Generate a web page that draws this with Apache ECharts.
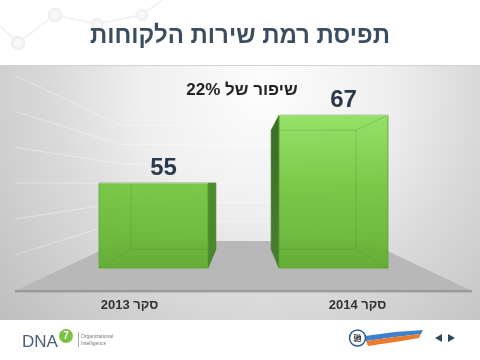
<!DOCTYPE html>
<html>
<head>
<meta charset="utf-8">
<script src="https://cdn.jsdelivr.net/npm/echarts@6/dist/echarts.min.js"></script>
<style>html,body{margin:0;padding:0;background:#fff;}#c{width:480px;height:360px;}</style>
</head>
<body>
<div id="c"></div>
<script>
// ---- data ----
const categories = ['סקר 2013', 'סקר 2014'];
const scores = [55, 67];
const wallTicks = [45, 50, 55, 60, 65, 70];
const yMin = 40;
const yMax = 75;
const titleText = 'תפיסת רמת שירות הלקוחות';
const improvement = Math.round((scores[1] - scores[0]) / scores[0] * 100);
const noteText = 'שיפור של ' + improvement + '%';

// ---- camera (style) ----
const HORIZON_VALUE = 55;   // eye level on value axis
const S_FRONT = -0.27;      // floor front edge depth
const S_WALL = 0.318;       // back wall depth
const S_BAR = 0.22;         // bar depth
const FONT = "'Liberation Sans', Arial, 'DejaVu Sans', sans-serif";

function vanish(params, api) {
  const cs = params.coordSys;
  return [cs.x + cs.width / 2, api.coord([0, HORIZON_VALUE])[1]];
}
function P(pt, s, V) {
  return [pt[0] + s * (V[0] - pt[0]), pt[1] + s * (V[1] - pt[1])];
}

const chart = echarts.init(document.getElementById('c'), null, {renderer: 'canvas'});

const option = {
  animation: false,
  grid: {left: 63.5, right: 56.5, top: 70, bottom: 92},
  xAxis: {
    type: 'category',
    data: categories,
    axisLine: {show: false},
    axisTick: {show: false},
    splitLine: {show: false},
    axisLabel: {
      margin: 31,
      fontFamily: FONT,
      fontWeight: 'bold',
      fontSize: 13,
      color: '#333333',
      formatter: function (v, i) { return i === 0 ? '{a|' + v + '}' : '{b|' + v + '}'; },
      rich: {
        a: {padding: [0, 48, 0, 0], fontFamily: FONT, fontWeight: 'bold', fontSize: 13, color: '#333333'},
        b: {padding: [0, 0, 0, 48], fontFamily: FONT, fontWeight: 'bold', fontSize: 13, color: '#333333'}
      }
    }
  },
  yAxis: {
    type: 'value', min: yMin, max: yMax, show: false,
    splitLine: {show: false}
  },
  graphic: [
    // panel background
    {type: 'rect', z: -10, silent: true, shape: {x: 0, y: 65, width: 480, height: 255},
      style: {fill: new echarts.graphic.RadialGradient(0.55, 0.1, 1.37, [
        {offset: 0, color: '#fdfdfd'},
        {offset: 0.35, color: '#efefef'},
        {offset: 0.6, color: '#dadada'},
        {offset: 1, color: '#bebebe'}
      ])}},
    {type: 'line', z: -9, silent: true, shape: {x1: 0, y1: 65.5, x2: 480, y2: 65.5}, style: {stroke: '#d2d2d2', lineWidth: 1}},
    // top decoration
    {type: 'polyline', z: -9, silent: true, shape: {points: [[0, 26], [18, 43], [55, 15], [97, 24], [142, 15], [162, 0]]},
      style: {stroke: '#f2f2f2', lineWidth: 2, fill: null}},
    {type: 'circle', z: -8, silent: true, shape: {cx: 18, cy: 43, r: 6}, style: {fill: '#f8f8f8', stroke: '#efefef', lineWidth: 3}},
    {type: 'circle', z: -8, silent: true, shape: {cx: 55, cy: 15, r: 6}, style: {fill: '#f8f8f8', stroke: '#efefef', lineWidth: 3}},
    {type: 'circle', z: -8, silent: true, shape: {cx: 97, cy: 24, r: 5}, style: {fill: '#f8f8f8', stroke: '#f1f1f1', lineWidth: 3}},
    {type: 'circle', z: -8, silent: true, shape: {cx: 142, cy: 15, r: 5}, style: {fill: '#f8f8f8', stroke: '#f1f1f1', lineWidth: 3}},
    // title
    {type: 'text', z: 10, silent: true, x: 240, y: 36,
      style: {text: titleText, font: 'bold 24px ' + FONT, fill: '#3b4e61', align: 'center', verticalAlign: 'middle',
        textShadowColor: 'rgba(110,170,225,0.55)', textShadowOffsetX: 1, textShadowOffsetY: 0, textShadowBlur: 0}},
    // annotation
    {type: 'text', z: 10, silent: true, x: 242, y: 90,
      style: {text: noteText, font: 'bold 17px ' + FONT, fill: '#222222', align: 'center', verticalAlign: 'middle'}},
    // footer left logo
    {type: 'text', z: 10, silent: true, x: 22, y: 342,
      style: {text: 'DNA', font: '17px ' + FONT, fill: '#4b5f74', align: 'left', verticalAlign: 'middle'}},
    {type: 'circle', z: 10, silent: true, shape: {cx: 66, cy: 336, r: 7}, style: {fill: '#7bc142'}},
    {type: 'text', z: 11, silent: true, x: 66, y: 336,
      style: {text: '7', font: 'bold 10px ' + FONT, fill: '#ffffff', align: 'center', verticalAlign: 'middle'}},
    {type: 'line', z: 10, silent: true, shape: {x1: 78.5, y1: 332, x2: 78.5, y2: 347}, style: {stroke: '#aaaaaa', lineWidth: 1}},
    {type: 'text', z: 10, silent: true, x: 81, y: 337,
      style: {text: 'Organizational', font: '5px ' + FONT, fill: '#777777', align: 'left', verticalAlign: 'middle'}},
    {type: 'text', z: 10, silent: true, x: 81, y: 344,
      style: {text: 'Intelligence', font: '5px ' + FONT, fill: '#777777', align: 'left', verticalAlign: 'middle'}},
    // footer right logo
    {type: 'polygon', z: 10, silent: true, shape: {points: [[365, 336], [395, 332], [423, 330], [421, 334], [395, 337], [366, 341]]}, style: {fill: '#3f7fd0'}},
    {type: 'polygon', z: 10, silent: true, shape: {points: [[366, 341], [395, 337], [421, 334], [419, 338], [395, 342], [368, 346]]}, style: {fill: '#ec7a2c'}},
    {type: 'circle', z: 11, silent: true, shape: {cx: 357.5, cy: 338, r: 8}, style: {fill: '#ffffff', stroke: '#2a5a96', lineWidth: 1.5}},
    {type: 'text', z: 12, silent: true, x: 357.5, y: 338,
      style: {text: '驰', font: 'bold 8px "Noto Sans CJK SC", sans-serif', fill: '#333333', align: 'center', verticalAlign: 'middle'}},
    {type: 'polygon', z: 10, silent: true, shape: {points: [[442, 334], [442, 342], [435, 338]]}, style: {fill: '#2c4862'}},
    {type: 'polygon', z: 10, silent: true, shape: {points: [[448, 334], [448, 342], [455, 338]]}, style: {fill: '#2c4862'}}
  ],
  series: [
    // floor
    {
      type: 'custom', z: 1, silent: true,
      data: [[0, yMin]],
      renderItem: function (params, api) {
        const cs = params.coordSys;
        const V = vanish(params, api);
        const y0 = api.coord([0, api.value(1)])[1];
        const L = [cs.x, y0], R = [cs.x + cs.width, y0];
        const fl = P(L, S_FRONT, V), fr = P(R, S_FRONT, V), bl = P(L, S_WALL, V), br = P(R, S_WALL, V);
        return {type: 'group', children: [
          {type: 'polygon', shape: {points: [fl, fr, br, bl]}, style: {fill: '#b8b8b8'}},
          {type: 'line', shape: {x1: fl[0], y1: fl[1], x2: fr[0], y2: fr[1]}, style: {stroke: '#8c8c8c', lineWidth: 1.5}},
          {type: 'line', shape: {x1: fl[0], y1: fl[1] + 1.5, x2: fr[0], y2: fr[1] + 1.5}, style: {stroke: 'rgba(165,165,165,0.6)', lineWidth: 1}}
        ]};
      }
    },
    // wall grid lines
    {
      type: 'custom', z: 2, silent: true,
      data: wallTicks.map(v => [0, v]),
      renderItem: function (params, api) {
        const cs = params.coordSys;
        const V = vanish(params, api);
        const y = api.coord([0, api.value(1)])[1];
        const L = [cs.x, y], R = [cs.x + cs.width, y];
        const a = P(L, S_FRONT, V), b = P(L, S_WALL, V), c = P(R, S_WALL, V);
        return {type: 'polyline', shape: {points: [a, b, c]}, style: {stroke: 'rgba(255,255,255,0.38)', lineWidth: 1, fill: null}};
      }
    },
    // 3D bars
    {
      type: 'custom', z: 3, silent: true,
      data: scores.map((v, i) => [i, v]),
      renderItem: function (params, api) {
        const cs = params.coordSys;
        const V = vanish(params, api);
        const idx = api.value(0), val = api.value(1);
        const top = api.coord([idx, val]);
        const bot = api.coord([idx, yMin]);
        const w = api.size([1, 0])[0] * 0.605;
        const cx = top[0];
        const TL = [cx - w / 2, top[1]], TR = [cx + w / 2, top[1]];
        const BL = [cx - w / 2, bot[1]], BR = [cx + w / 2, bot[1]];
        const bTL = P(TL, S_BAR, V), bTR = P(TR, S_BAR, V), bBL = P(BL, S_BAR, V), bBR = P(BR, S_BAR, V);
        const rightSide = cx < V[0];
        const side = rightSide ? [TR, bTR, bBR, BR] : [TL, bTL, bBL, BL];
        const sideFill = rightSide
          ? new echarts.graphic.LinearGradient(0, 0, 0, 1, [{offset: 0, color: '#4f8d2e'}, {offset: 1, color: '#4a862c'}])
          : new echarts.graphic.LinearGradient(0, 0, 0, 1, [{offset: 0, color: '#3d6a2b'}, {offset: 1, color: '#487f31'}]);
        const frontFill = new echarts.graphic.LinearGradient(0, cs.y, 0, cs.y + cs.height, [
          {offset: 0, color: '#9ae86a'},
          {offset: 0.23, color: '#8ee05e'},
          {offset: 0.58, color: '#72c53e'},
          {offset: 1, color: '#60ae2e'}
        ], true);
        const edge = 'rgba(72,140,40,0.3)';
        const children = [
          {type: 'polygon', shape: {points: side}, style: {fill: sideFill, stroke: 'rgba(60,110,35,0.8)', lineWidth: 0.8}},
          {type: 'rect', shape: {x: TL[0], y: TL[1], width: w, height: BL[1] - TL[1]},
            style: {fill: frontFill, opacity: 0.93, stroke: '#5aa82c', lineWidth: 1}},
          {type: 'polyline', shape: {points: [bTL, bTR, bBR, bBL, bTL]}, style: {stroke: edge, lineWidth: 1, fill: null}},
          {type: 'line', shape: {x1: TL[0], y1: TL[1], x2: bTL[0], y2: bTL[1]}, style: {stroke: edge, lineWidth: 1}},
          {type: 'line', shape: {x1: TR[0], y1: TR[1], x2: bTR[0], y2: bTR[1]}, style: {stroke: edge, lineWidth: 1}},
          {type: 'line', shape: {x1: BL[0], y1: BL[1], x2: bBL[0], y2: bBL[1]}, style: {stroke: edge, lineWidth: 1}},
          {type: 'line', shape: {x1: BR[0], y1: BR[1], x2: bBR[0], y2: bBR[1]}, style: {stroke: edge, lineWidth: 1}},
          {type: 'line', shape: {x1: TL[0], y1: TL[1], x2: TR[0], y2: TR[1]}, style: {stroke: 'rgba(205,220,195,0.9)', lineWidth: 1}},
          {type: 'text', x: cx + 10, y: TL[1] - 15,
            style: {text: String(val), font: 'bold 24px ' + FONT, fill: '#2b3a4b', align: 'center', verticalAlign: 'middle'}}
        ];
        return {type: 'group', children: children};
      }
    }
  ]
};
chart.setOption(option);
</script>
</body>
</html>
